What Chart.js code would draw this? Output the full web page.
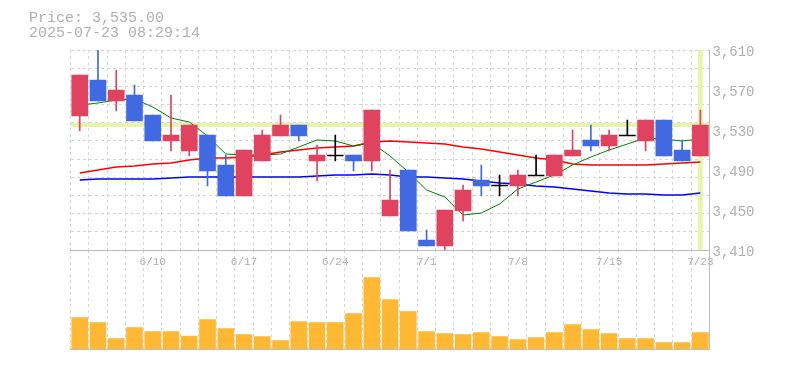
<!DOCTYPE html>
<html>
<head>
<meta charset="utf-8">
<script src="https://cdn.jsdelivr.net/npm/chart.js@4/dist/chart.umd.min.js"></script>
<style>
  body { margin: 0; background: #fff; }
  #wrap { position: relative; width: 785px; height: 370px; }
  #wrap canvas { position: absolute; left: 0; top: 0; }
  #info {
    position: absolute; left: 29px; top: 11px;
    font: 15px/15px "Liberation Mono", "DejaVu Sans Mono", monospace;
    color: #b0b0b0; white-space: pre; z-index: 3;
  }
</style>
</head>
<body>
<div id="wrap">
  <canvas id="volume_Chart" width="785" height="370"></canvas>
  <canvas id="price_Chart" width="785" height="370"></canvas>
  <div id="info">Price: 3,535.00
2025-07-23 08:29:14</div>
</div>
<script>
// trading days shown on the chart
const dates = ['6/4','6/5','6/6','6/9','6/10','6/11','6/12','6/13','6/16','6/17',
  '6/18','6/19','6/20','6/23','6/24','6/25','6/26','6/27','6/30','7/1',
  '7/2','7/3','7/4','7/7','7/8','7/9','7/10','7/11','7/14','7/15',
  '7/16','7/17','7/18','7/22','7/23'];

// OHLC
const opens  = [3544,3580,3559,3565,3545,3519,3509,3525,3495,3464,3499,3524,3535,3499,3505,3505,3499,3444,3490,3420,3414,3449,3480,3475,3474,3485,3484,3504,3520,3514,3525,3519,3540,3510,3504];
const highs  = [3585,3610,3590,3575,3545,3565,3535,3525,3505,3510,3530,3545,3535,3515,3525,3505,3550,3490,3490,3430,3450,3475,3495,3485,3490,3505,3505,3530,3535,3530,3540,3540,3540,3520,3550];
const lows   = [3529,3559,3549,3539,3519,3509,3504,3474,3464,3464,3499,3524,3519,3479,3499,3489,3489,3444,3429,3414,3409,3439,3464,3464,3464,3485,3484,3504,3509,3509,3525,3509,3504,3499,3504];
const closes = [3585,3559,3570,3539,3519,3525,3535,3489,3464,3510,3525,3535,3524,3505,3505,3499,3550,3460,3429,3414,3450,3470,3474,3475,3485,3485,3505,3510,3514,3525,3525,3540,3504,3499,3535];

// moving averages (short / mid / long)
const ma5  = [3555,3557,3560,3561,3553,3542,3538,3524,3506,3505,3505,3506,3513,3520,3519,3514,3517,3504,3488,3470,3463,3445,3447,3456,3471,3478,3485,3495,3503,3510,3516,3522,3521,3519,3521];
const ma25 = [3487,3490,3493,3494,3496,3497,3500,3502,3502,3503,3505,3508,3510,3512,3513,3514,3518,3519,3518,3517,3516,3513,3511,3508,3505,3502,3500,3496,3495,3495,3495,3495,3496,3497,3498];
const ma75 = [3480,3481,3481,3481,3481,3482,3483,3483,3483,3483,3483,3483,3483,3484,3485,3485,3486,3485,3483,3483,3482,3481,3479,3477,3476,3474,3473,3471,3469,3467,3466,3466,3465,3465,3467];

// daily volume
const volumes = [31300,26300,10300,21300,17300,17300,13000,29300,20300,14300,12300,8300,27300,26300,26300,35300,71300,49300,37300,17300,15300,14300,16300,12300,9300,11300,16300,24300,19300,15300,10300,10300,6300,6300,16300];

// axis labels
const priceTicks = [3410,3450,3490,3530,3570,3610];
const xTickLabels = ['6/10','6/17','6/24','7/1','7/8','7/15','7/23'];

const UP = '#e0435f', DOWN = '#4169e1', FLAT = '#000000';
const GRID = '#d6d6d6', AXIS = '#bbbbbb', HILITE = '#e6f5a9';
const MONO = "'Liberation Mono', 'DejaVu Sans Mono', monospace";

const last = dates.length - 1;
const lastPrice = closes[last];
const candleColor = opens.map((o, i) => closes[i] > o ? UP : (closes[i] < o ? DOWN : FLAT));
// a doji gets a 1 yen tall body so it shows as a cross
const bodies = opens.map((o, i) => o === closes[i] ? [o - 1, o] : [o, closes[i]]);
const wicks = lows.map((l, i) => [l, highs[i]]);

const dashedGrid = {
    grid: { display: true, offset: true, color: GRID, drawTicks: false },
    border: { display: true, color: AXIS, dash: [3, 3] }
};

new Chart(document.getElementById('price_Chart'), {
    type: 'bar',
    data: {
        labels: dates,
        datasets: [
            { data: bodies, backgroundColor: candleColor, barThickness: 16, grouped: false, order: 0 },
            { data: wicks, backgroundColor: candleColor, barThickness: 1, grouped: false, order: 1 },
            { type: 'line', data: ma5, borderColor: '#008000', borderWidth: 1, pointRadius: 0, order: 2 },
            { type: 'line', data: ma25, borderColor: '#ff0000', borderWidth: 1.5, pointRadius: 0, order: 3 },
            { type: 'line', data: ma75, borderColor: '#0000ff', borderWidth: 1.5, pointRadius: 0, order: 4 },
            { type: 'line', xAxisID: 'xLin',
              data: [{ x: -0.5, y: lastPrice }, { x: last + 0.5, y: lastPrice }],
              borderColor: HILITE, borderWidth: 4, pointRadius: 0, order: 6 },
            { data: dates.map((d, i) => i === last ? [priceTicks[0], priceTicks[priceTicks.length - 1]] : null),
              backgroundColor: HILITE, barThickness: 4, grouped: false, order: 7 }
        ]
    },
    options: {
        responsive: false,
        animation: false,
        layout: { padding: { top: 50, left: 0, right: 0, bottom: 0 } },
        plugins: { legend: { display: false }, tooltip: { enabled: false } },
        scales: {
            x: {
                type: 'category',
                offset: true,
                position: 'bottom',
                ...dashedGrid,
                ticks: {
                    autoSkip: false, maxRotation: 0, minRotation: 0, padding: 5,
                    color: '#b0b0b0', font: { family: MONO, size: 11 },
                    callback: function(value, index) {
                        return xTickLabels.includes(dates[index]) ? dates[index] : '';
                    }
                },
                afterFit: (scale) => { scale.height = 120; }
            },
            xLin: {
                type: 'linear', display: false, offset: false,
                min: -0.5, max: last + 0.5,
                grid: { offset: false }
            },
            y: {
                position: 'right',
                min: priceTicks[0],
                max: priceTicks[priceTicks.length - 1],
                grid: { display: false, drawTicks: false },
                border: { display: true, color: AXIS },
                ticks: {
                    padding: 3, labelOffset: 2.5, color: '#b0b0b0',
                    font: { family: MONO, size: 14 },
                    callback: (v) => v.toLocaleString('en-US')
                },
                afterBuildTicks: (axis) => { axis.ticks = priceTicks.map(v => ({ value: v })); },
                afterFit: (scale) => { scale.width = 75.5; }
            },
            yGrid: {
                position: 'left',
                min: 0, max: 11,
                ticks: { display: false, stepSize: 1 },
                grid: { display: true, color: GRID, drawTicks: false },
                border: { display: false, dash: [3, 3] },
                afterFit: (scale) => { scale.width = 70.6; }
            }
        }
    }
});

new Chart(document.getElementById('volume_Chart'), {
    type: 'bar',
    data: {
        labels: dates,
        datasets: [
            { data: volumes, backgroundColor: '#ffb833', barThickness: 16 }
        ]
    },
    options: {
        responsive: false,
        animation: false,
        layout: { padding: { top: 250, left: 70.6, right: 0, bottom: 0 } },
        plugins: { legend: { display: false }, tooltip: { enabled: false } },
        scales: {
            x: {
                offset: true,
                ...dashedGrid,
                ticks: { display: false },
                afterFit: (scale) => { scale.height = 21; }
            },
            y: {
                position: 'right',
                min: 0, max: 99000,
                grid: { display: false },
                border: { display: true, color: AXIS },
                ticks: { display: false },
                afterFit: (scale) => { scale.width = 75.5; }
            }
        }
    }
});
</script>
</body>
</html>
